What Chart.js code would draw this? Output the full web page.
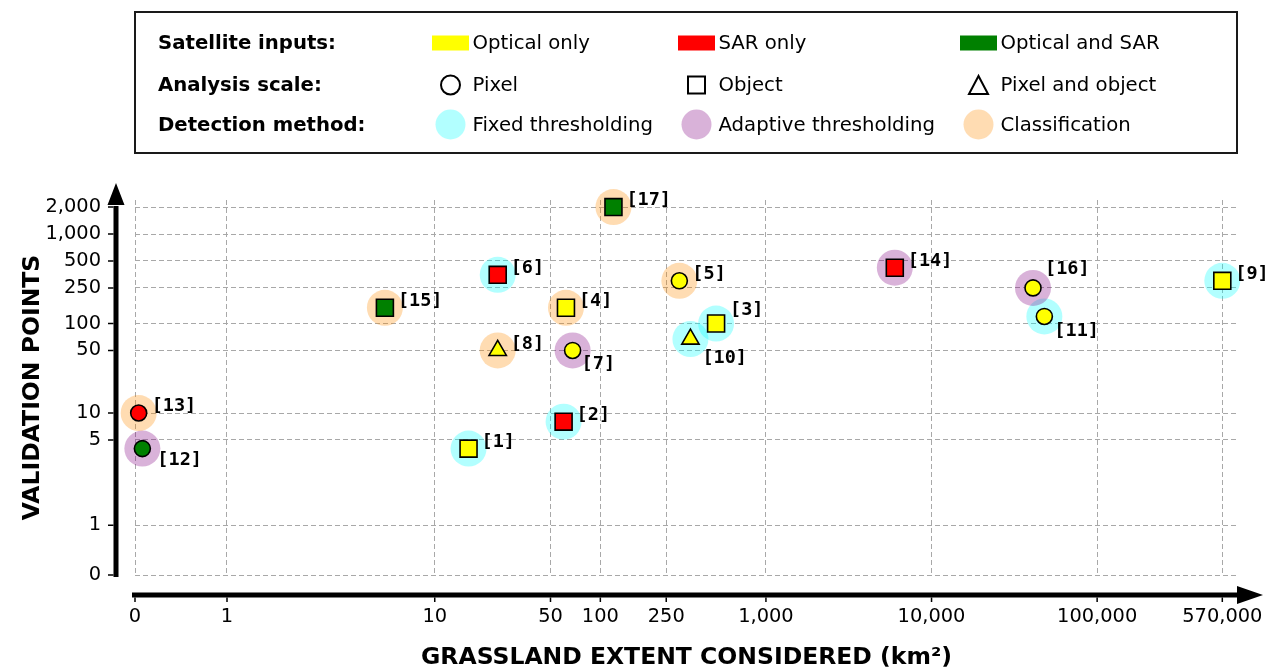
<!DOCTYPE html>
<html>
<head>
<meta charset="utf-8">
<title>Grassland extent vs validation points</title>
<script src="https://cdn.jsdelivr.net/npm/chart.js@4.4.1/dist/chart.umd.min.js"></script>
<style>
  html, body { margin: 0; padding: 0; background: #fff; }
  #wrap { position: relative; width: 1274px; height: 671px; font-family: "DejaVu Sans", sans-serif; }
  #plot { position: absolute; left: 0; top: 0; }
  #legend-box { position: absolute; left: 134px; top: 11px; width: 1104px; height: 143px; box-sizing: border-box; border: 2px solid #1a1a1a; }
  .lg-text { position: absolute; font-size: 19.7px; line-height: 1; transform: translateY(-50%); white-space: nowrap; color: #000; }
  .lg-head { font-weight: bold; }
  #legend-marks { position: absolute; left: 0; top: 0; }
</style>
</head>
<body>
<div id="wrap">
  <canvas id="plot" width="1274" height="671"></canvas>
  <div id="legend-box"></div>
  <svg id="legend-marks" width="1274" height="160"></svg>
</div>
<script>
// reference number of each study
const REFS = [1, 2, 3, 4, 5, 6, 7, 8, 9, 10, 11, 12, 13, 14, 15, 16, 17];
// grassland extent considered (km²)
const EXTENT_KM2 = [16, 60, 500, 62, 300, 24, 68, 24, 570000, 350, 48000, 0.08, 0.04, 6000, 5, 41000, 120];
// number of validation points
const VALIDATION_POINTS = [4, 8, 100, 150, 300, 350, 50, 50, 300, 67, 120, 4, 10, 420, 150, 250, 2000];

// categories
const INPUTS = ['Optical only', 'SAR only', 'Optical and SAR'];
const SCALES = ['Pixel', 'Object', 'Pixel and object'];
const METHODS = ['Fixed thresholding', 'Adaptive thresholding', 'Classification'];

const INPUT_OF = ['Optical only', 'SAR only', 'Optical only', 'Optical only', 'Optical only', 'SAR only',
  'Optical only', 'Optical only', 'Optical only', 'Optical only', 'Optical only', 'Optical and SAR',
  'SAR only', 'SAR only', 'Optical and SAR', 'Optical only', 'Optical and SAR'];
const SCALE_OF = ['Object', 'Object', 'Object', 'Object', 'Pixel', 'Object', 'Pixel', 'Pixel and object',
  'Object', 'Pixel and object', 'Pixel', 'Pixel', 'Pixel', 'Object', 'Object', 'Pixel', 'Object'];
const METHOD_OF = ['Fixed thresholding', 'Fixed thresholding', 'Fixed thresholding', 'Classification',
  'Classification', 'Fixed thresholding', 'Adaptive thresholding', 'Classification', 'Fixed thresholding',
  'Fixed thresholding', 'Fixed thresholding', 'Adaptive thresholding', 'Classification',
  'Adaptive thresholding', 'Classification', 'Adaptive thresholding', 'Classification'];

// axis ticks and limits
const X_TICKS = [0, 1, 10, 50, 100, 250, 1000, 10000, 100000, 570000];
const Y_TICKS = [0, 1, 5, 10, 50, 100, 250, 500, 1000, 2000];
const X_MAX = 709000;
const Y_MAX = 2400;

// styles
const INPUT_COLOR = { 'Optical only': '#ffff00', 'SAR only': '#ff0000', 'Optical and SAR': '#008000' };
const SCALE_STYLE = { 'Pixel': 'circle', 'Object': 'rect', 'Pixel and object': 'triangle' };
const MARK_RADIUS = { circle: 8, rect: 12, triangle: 10 };
const METHOD_COLOR = {
  'Fixed thresholding': 'rgba(0,255,255,0.3)',
  'Adaptive thresholding': 'rgba(128,0,128,0.3)',
  'Classification': 'rgba(255,140,0,0.3)'
};

// symmetric log: linear below 2, log10 above
const LIN_THRESH = 2;
const LIN_SPAN = 1 / (1 - 1 / 10);
function symlog(v) {
  return v <= LIN_THRESH ? (v / LIN_THRESH) * LIN_SPAN : LIN_SPAN + Math.log10(v / LIN_THRESH);
}
function symexp(t) {
  return t <= LIN_SPAN ? (t / LIN_SPAN) * LIN_THRESH : LIN_THRESH * Math.pow(10, t - LIN_SPAN);
}

class SymLogScale extends Chart.Scale {
  determineDataLimits() {
    const { min, max } = this.getMinMax(true);
    this.min = this.options.min ?? min;
    this.max = this.options.max ?? max;
  }
  buildTicks() {
    return this.options.tickValues.map(value => ({ value }));
  }
  configure() {
    super.configure();
    this._tStart = symlog(this.min);
    this._tRange = symlog(this.max) - this._tStart;
  }
  getPixelForValue(value) {
    return this.getPixelForDecimal((symlog(value) - this._tStart) / this._tRange);
  }
  getValueForPixel(pixel) {
    return symexp(this._tStart + this.getDecimalForPixel(pixel) * this._tRange);
  }
}
SymLogScale.id = 'symlog';
SymLogScale.defaults = {};
Chart.register(SymLogScale);

// ---- legend (html + svg) ----
const LG_COLS = [450.5, 696.5, 978.5];
const LG_ROWS = [43, 85, 124.5];
const wrap = document.getElementById('wrap');
const marks = document.getElementById('legend-marks');
const SVG_NS = 'http://www.w3.org/2000/svg';

function addText(str, x, y, head) {
  const el = document.createElement('span');
  el.className = 'lg-text' + (head ? ' lg-head' : '');
  el.style.left = x + 'px';
  el.style.top = y + 'px';
  el.textContent = str;
  wrap.appendChild(el);
}
function addShape(tag, attrs) {
  const el = document.createElementNS(SVG_NS, tag);
  for (const k in attrs) el.setAttribute(k, attrs[k]);
  marks.appendChild(el);
}

addText('Satellite inputs:', 158, LG_ROWS[0], true);
addText('Analysis scale:', 158, LG_ROWS[1], true);
addText('Detection method:', 158, LG_ROWS[2], true);

INPUTS.forEach((name, i) => {
  const cx = LG_COLS[i], cy = LG_ROWS[0];
  addShape('rect', { x: cx - 18.5, y: cy - 7.5, width: 37, height: 15, fill: INPUT_COLOR[name] });
  addText(name, cx + 22, cy);
});
SCALES.forEach((name, i) => {
  const cx = LG_COLS[i], cy = LG_ROWS[1];
  const style = SCALE_STYLE[name];
  const common = { fill: 'none', stroke: '#000', 'stroke-width': 2 };
  if (style === 'circle') addShape('circle', { cx, cy, r: 9.5, ...common });
  else if (style === 'rect') addShape('rect', { x: cx - 8.5, y: cy - 8.5, width: 17, height: 17, ...common });
  else addShape('polygon', { points: `${cx},${cy - 9} ${cx - 9.5},${cy + 9} ${cx + 9.5},${cy + 9}`, ...common });
  addText(name, cx + 22, cy);
});
METHODS.forEach((name, i) => {
  const cx = LG_COLS[i], cy = LG_ROWS[2];
  addShape('circle', { cx, cy, r: 15, fill: METHOD_COLOR[name] });
  addText(name, cx + 22, cy);
});

// ---- plugins: axis arrows with tick marks, reference labels ----
const axisArrows = {
  id: 'axisArrows',
  afterDraw(chart) {
    const { ctx, chartArea: a, scales: { x, y } } = chart;
    const ax = a.left - 19;
    const ay = a.bottom + 20;
    ctx.save();
    ctx.strokeStyle = '#000';
    ctx.fillStyle = '#000';

    ctx.lineWidth = 5;
    ctx.beginPath();
    ctx.moveTo(ax, a.bottom + 2);
    ctx.lineTo(ax, a.top + 6);
    ctx.moveTo(a.left - 3, ay);
    ctx.lineTo(a.right, ay);
    ctx.stroke();

    // heads
    ctx.beginPath();
    ctx.moveTo(ax, a.top - 17);
    ctx.lineTo(ax - 8.5, a.top + 5);
    ctx.lineTo(ax + 8.5, a.top + 5);
    ctx.closePath();
    ctx.moveTo(a.right + 25, ay);
    ctx.lineTo(a.right - 1, ay - 9);
    ctx.lineTo(a.right - 1, ay + 9);
    ctx.closePath();
    ctx.fill();

    ctx.lineWidth = 1.5;
    ctx.beginPath();
    x.ticks.forEach(t => {
      const px = x.getPixelForValue(t.value);
      ctx.moveTo(px, ay + 2.5);
      ctx.lineTo(px, ay + 7);
    });
    y.ticks.forEach(t => {
      const py = y.getPixelForValue(t.value);
      ctx.moveTo(ax - 2.5, py);
      ctx.lineTo(ax - 8, py);
    });
    ctx.stroke();
    ctx.restore();
  }
};

const LABEL_NUDGE = { 3: [14, -13], 7: [9, 14], 10: [12, 19], 11: [10, 15], 12: [15, 12], 16: [12, -19] };
const refLabels = {
  id: 'refLabels',
  afterDatasetsDraw(chart) {
    const ctx = chart.ctx;
    const meta = chart.getDatasetMeta(0);
    ctx.save();
    ctx.font = 'bold 18.5px "DejaVu Sans Mono", monospace';
    ctx.fillStyle = '#000';
    ctx.textAlign = 'left';
    ctx.textBaseline = 'middle';
    meta.data.forEach((pt, i) => {
      const [dx, dy] = LABEL_NUDGE[REFS[i]] || [13, -6.5];
      ctx.fillText('[' + REFS[i] + ']', pt.x + dx, pt.y + dy);
    });
    ctx.restore();
  }
};

// ---- chart ----
Chart.defaults.font.family = '"DejaVu Sans", sans-serif';
Chart.defaults.color = '#000';

const points = EXTENT_KM2.map((x, i) => ({ x, y: VALIDATION_POINTS[i] }));
const gridStyle = { color: '#a8a8a8', lineWidth: 1, drawTicks: false };
const borderStyle = { display: false, dash: [5, 3] };
const fmt = v => v.toLocaleString('en-US');

new Chart(document.getElementById('plot'), {
  type: 'scatter',
  data: {
    datasets: [
      {
        label: 'Analysis scale / satellite inputs',
        data: points,
        order: 0,
        clip: false,
        pointStyle: SCALE_OF.map(s => SCALE_STYLE[s]),
        pointRadius: SCALE_OF.map(s => MARK_RADIUS[SCALE_STYLE[s]]),
        backgroundColor: INPUT_OF.map(c => INPUT_COLOR[c]),
        borderColor: '#000',
        borderWidth: 1.6
      },
      {
        label: 'Detection method',
        data: points,
        order: 1,
        clip: false,
        pointStyle: 'circle',
        pointRadius: 18,
        backgroundColor: METHOD_OF.map(m => METHOD_COLOR[m]),
        borderWidth: 0
      }
    ]
  },
  options: {
    responsive: false,
    animation: false,
    events: [],
    layout: { padding: { top: 200, right: 36, bottom: 0, left: 0 } },
    plugins: { legend: { display: false }, tooltip: { enabled: false } },
    scales: {
      x: {
        type: 'symlog',
        position: 'bottom',
        min: 0,
        max: X_MAX,
        tickValues: X_TICKS,
        grid: gridStyle,
        border: borderStyle,
        ticks: { autoSkip: false, maxRotation: 0, minRotation: 0, padding: 30, font: { size: 19.4 }, color: '#000', callback: fmt },
        title: {
          display: true,
          text: 'GRASSLAND EXTENT CONSIDERED (km²)',
          font: { size: 23.5, weight: 'bold', lineHeight: 1 },
          color: '#000',
          padding: { top: 0, bottom: 1 }
        },
        afterFit(s) { s.height = 96; s.paddingLeft = 0; s.paddingRight = 0; }
      },
      y: {
        type: 'symlog',
        position: 'left',
        min: 0,
        max: Y_MAX,
        tickValues: Y_TICKS,
        grid: gridStyle,
        border: borderStyle,
        ticks: { autoSkip: false, padding: 34, font: { size: 19.4 }, color: '#000', callback: fmt },
        title: {
          display: true,
          text: 'VALIDATION POINTS',
          font: { size: 23.5, weight: 'bold', lineHeight: 1 },
          color: '#000',
          padding: { top: 21, bottom: 0 }
        },
        afterFit(s) { s.width = 135; s.paddingTop = 0; s.paddingBottom = 0; }
      }
    }
  },
  plugins: [axisArrows, refLabels]
});
</script>
</body>
</html>
